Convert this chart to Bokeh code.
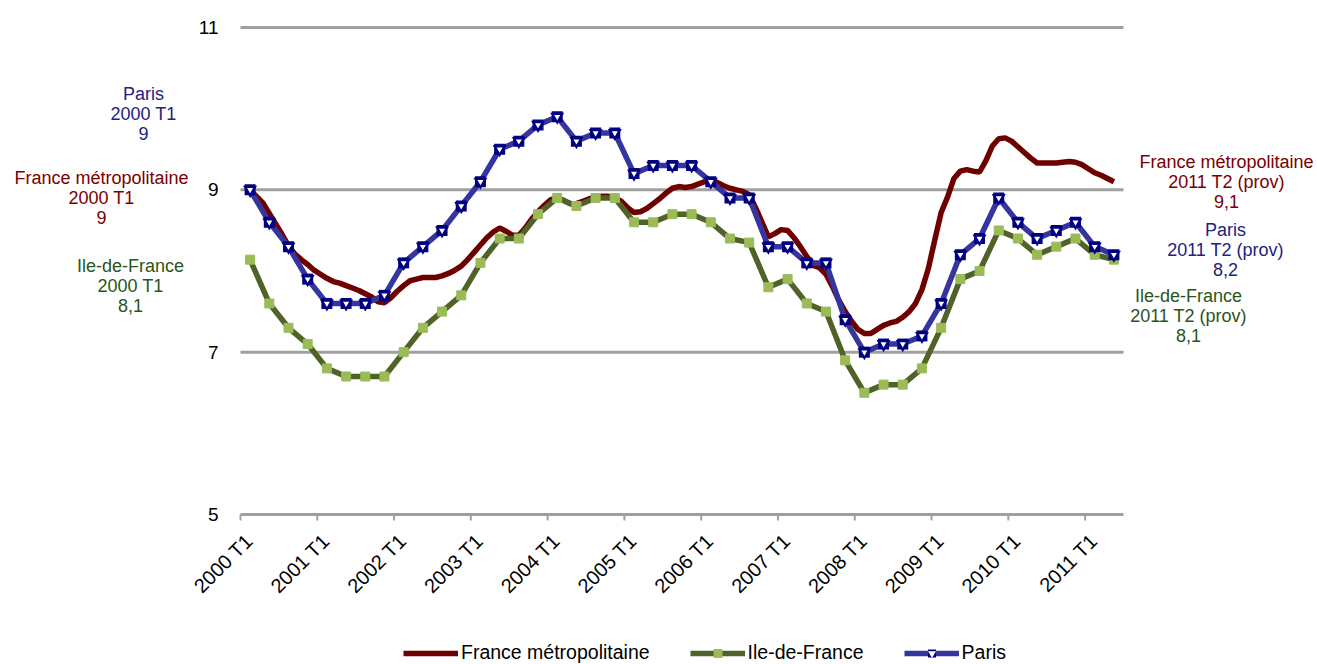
import numpy as np
from math import pi
from bokeh.plotting import figure
from bokeh.models import Range1d
from bokeh.core.properties import value
from bokeh.embed import file_html
from bokeh.resources import INLINE

# ---------------- data ----------------
series_names = ["France métropolitaine", "Ile-de-France", "Paris"]
tick_labels = ["2000 T1", "2001 T1", "2002 T1", "2003 T1", "2004 T1", "2005 T1",
               "2006 T1", "2007 T1", "2008 T1", "2009 T1", "2010 T1", "2011 T1"]
first_period = "2000 T1"
last_period = "2011 T2 (prov)"
y_ticks = [5, 7, 9, 11]
grid_values = [7, 9, 11]

# quarterly series (2000 T1 .. 2011 T2)
paris = [9.0, 8.6, 8.3, 7.9, 7.6, 7.6, 7.6, 7.7, 8.1, 8.3, 8.5, 8.8,
         9.1, 9.5, 9.6, 9.8, 9.9, 9.6, 9.7, 9.7, 9.2, 9.3, 9.3, 9.3,
         9.1, 8.9, 8.9, 8.3, 8.3, 8.1, 8.1, 7.4, 7.0, 7.1, 7.1, 7.2,
         7.6, 8.2, 8.4, 8.9, 8.6, 8.4, 8.5, 8.6, 8.3, 8.2]
idf = [8.14, 7.6, 7.3, 7.1, 6.8, 6.7, 6.7, 6.7, 7.0, 7.3, 7.5, 7.7,
       8.1, 8.4, 8.4, 8.7, 8.9, 8.8, 8.9, 8.9, 8.6, 8.6, 8.7, 8.7,
       8.6, 8.4, 8.35, 7.8, 7.9, 7.6, 7.5, 6.9, 6.5, 6.6, 6.6, 6.8,
       7.3, 7.9, 8.0, 8.5, 8.4, 8.2, 8.3, 8.4, 8.2, 8.14]
# monthly series as plotted
france = [9.00, 8.92, 8.84, 8.71, 8.58, 8.45, 8.31, 8.21, 8.14, 8.08, 8.01, 7.96,
          7.91, 7.87, 7.85, 7.82, 7.79, 7.76, 7.72, 7.68, 7.62, 7.61, 7.67, 7.75,
          7.82, 7.88, 7.90, 7.92, 7.92, 7.92, 7.94, 7.97, 8.01, 8.06, 8.14, 8.23,
          8.32, 8.41, 8.48, 8.53, 8.49, 8.44, 8.44, 8.53, 8.64, 8.73, 8.81, 8.88,
          8.90, 8.87, 8.83, 8.83, 8.86, 8.89, 8.91, 8.92, 8.92, 8.90, 8.86, 8.78,
          8.72, 8.73, 8.77, 8.83, 8.89, 8.96, 9.02, 9.04, 9.03, 9.04, 9.07, 9.10,
          9.11, 9.09, 9.05, 9.02, 9.00, 8.98, 8.94, 8.78, 8.60, 8.42, 8.46, 8.51,
          8.50, 8.41, 8.30, 8.18, 8.07, 8.04, 7.96, 7.81, 7.64, 7.50, 7.38, 7.28,
          7.23, 7.23, 7.28, 7.33, 7.36, 7.38, 7.43, 7.50, 7.60, 7.77, 8.03, 8.38,
          8.72, 8.91, 9.14, 9.23, 9.25, 9.23, 9.22, 9.36, 9.54, 9.63, 9.64, 9.60,
          9.53, 9.46, 9.39, 9.33, 9.33, 9.33, 9.33, 9.34, 9.35, 9.34, 9.31, 9.26,
          9.21, 9.18, 9.14, 9.10]

# ---------------- styles / geometry ----------------
FONT = "Liberation Sans"
C_FR, C_IDF, C_IDF_M, C_PAR, C_PAR_M = "#6E0000", "#4F6228", "#9BBB59", "#3535A0", "#000080"
T_FR, T_IDF, T_PAR = "#7A0000", "#2A5518", "#22227F"
GRID = "#A0A0A0"
LW = 5.5

W, H = 1317, 664
LEFT = 240            # pixel column of the plot area's left edge
FRAME_W = 883         # plot-area width in pixels
Y11, Y5 = 27, 514     # pixel rows of 11 and 5

n_q = len(paris)
xq = np.arange(n_q) + 0.5
xm = 0.5 + np.arange(len(france)) / 3.0

ppx = FRAME_W / n_q                    # pixels per quarter
ppy = (Y5 - Y11) / (y_ticks[-1] - y_ticks[0])   # pixels per point
x_lo, x_hi = -LEFT / ppx, (W - LEFT) / ppx
y_hi = y_ticks[-1] + Y11 / ppy
y_lo = y_ticks[-1] - (H - Y11) / ppy


def to_data(px, py):
    return (px - LEFT) / ppx, y_ticks[-1] - (py - Y11) / ppy


p = figure(width=W, height=H, output_backend="svg", toolbar_location=None,
           x_range=Range1d(x_lo, x_hi), y_range=Range1d(y_lo, y_hi),
           x_axis_type=None, y_axis_type=None, min_border=0)
p.outline_line_color = None
p.grid.visible = False
p.background_fill_color = "white"

# grid lines and x axis line
p.segment(x0=[0] * len(grid_values), x1=[n_q] * len(grid_values),
          y0=grid_values, y1=grid_values, line_color=GRID, line_width=3)
p.segment(x0=[0], x1=[n_q], y0=[y_ticks[0]], y1=[y_ticks[0]], line_color=GRID, line_width=3)
tick_x = [4 * k for k in range(len(tick_labels))]
p.segment(x0=tick_x, x1=tick_x, y0=[y_ticks[0]] * len(tick_x),
          y1=[y_ticks[0] - 6 / ppy] * len(tick_x), line_color=GRID, line_width=2)

# y tick labels
p.text(x=[-22 / ppx] * len(y_ticks), y=y_ticks, text=[str(v) for v in y_ticks],
       text_align="right", text_baseline="middle", text_font=value(FONT),
       text_font_size="19px", text_color="black")

# x tick labels (rotated, ending under the first quarter of each year)
p.text(x=[t + 0.5 - 1 / ppx for t in tick_x], y=[y_ticks[0] - 23 / ppy] * len(tick_x),
       text=tick_labels, angle=pi / 4, text_align="right", text_baseline="middle",
       text_font=value(FONT), text_font_size="20px", text_color="black")

# series
p.line(xm, france, line_color=C_FR, line_width=LW, legend_label=series_names[0])
p.line(xq, idf, line_color=C_IDF, line_width=LW, legend_label=series_names[1])
p.scatter(xq, idf, marker="square", size=9, fill_color=C_IDF_M, line_color=C_IDF_M,
          legend_label=series_names[1])
p.line(xq, paris, line_color=C_PAR, line_width=LW, legend_label=series_names[2])
p.scatter(xq, paris, marker="square", size=11, fill_color=C_PAR_M, line_color=None,
          legend_label=series_names[2])
p.scatter(xq, paris, marker="inverted_triangle", size=14, fill_color=C_PAR_M, line_color=None,
          legend_label=series_names[2])
p.scatter(xq, paris, marker="inverted_triangle", size=6, fill_color="white", line_color=None,
          legend_label=series_names[2])

leg = p.legend[0]
leg.orientation = "horizontal"
leg.location = (403, 0)
leg.padding = 0
leg.margin = 0
leg.spacing = 40
leg.glyph_width = 55
leg.glyph_height = 20
leg.label_standoff = 3
leg.label_text_font = FONT
leg.label_text_font_size = "19.5px"
leg.label_text_color = "black"
leg.border_line_color = None
leg.background_fill_alpha = 0


# end-point annotations
def fr(v):
    s = f"{v:.1f}".replace(".", ",")
    return s[:-2] if s.endswith(",0") else s


blocks = [
    (143, 93, [series_names[2], first_period, fr(paris[0])], T_PAR),
    (101, 177, [series_names[0], first_period, fr(france[0])], T_FR),
    (130, 265, [series_names[1], first_period, fr(idf[0])], T_IDF),
    (1226, 161, [series_names[0], last_period, fr(france[-1])], T_FR),
    (1225, 229, [series_names[2], last_period, fr(paris[-1])], T_PAR),
    (1188, 295, [series_names[1], last_period, fr(idf[-1])], T_IDF),
]
ax, ay, at, ac = [], [], [], []
for cx, cy, lines, col in blocks:
    for k, t in enumerate(lines):
        dx, dy = to_data(cx, cy + 20 * k)
        ax.append(dx); ay.append(dy); at.append(t); ac.append(col)
p.text(x=ax, y=ay, text=at, text_color=ac, text_align="center", text_baseline="middle",
       text_font=value(FONT), text_font_size="18px")

open("out.html", "w").write(file_html(p, INLINE))
